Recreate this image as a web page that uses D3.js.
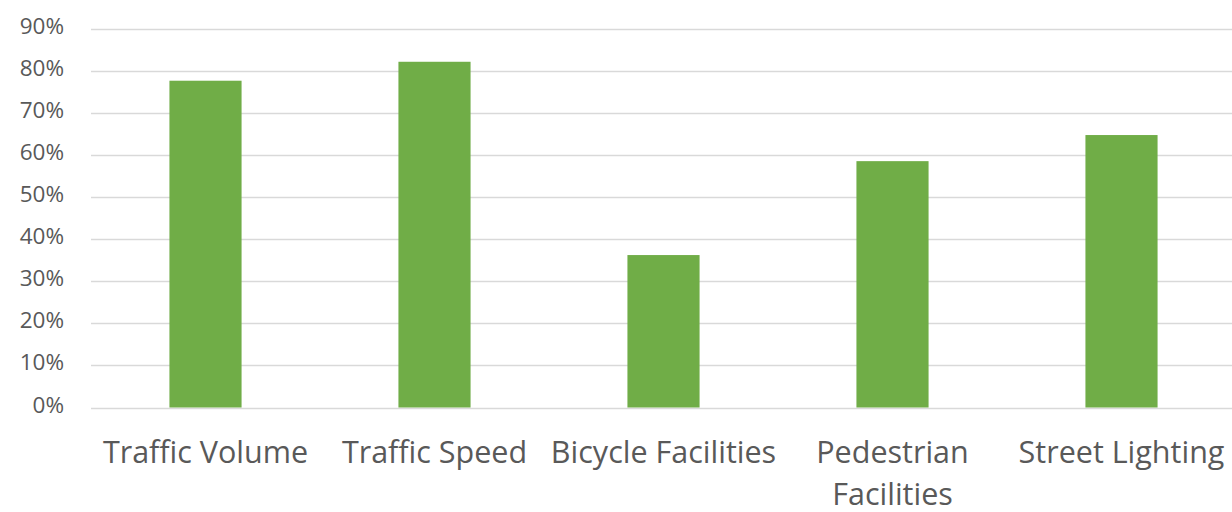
<!DOCTYPE html>
<html><head><meta charset="utf-8">
<script src="https://cdn.jsdelivr.net/npm/d3@7"></script>
<style>body{margin:0;background:#fff;}svg{display:block;}</style>
</head><body>
<svg id="chart" width="1232" height="512"></svg>
<script>
const categories = ["Traffic Volume", "Traffic Speed", "Bicycle Facilities", "Pedestrian Facilities", "Street Lighting"];
const values = [0.776, 0.821, 0.362, 0.585, 0.647];
const tickValues = [0, 0.1, 0.2, 0.3, 0.4, 0.5, 0.6, 0.7, 0.8, 0.9];

(function() {
const svg = d3.select("#chart");
const mLeft = 91, mRight = 1236, mTop = 28.5, mBottom = 407.5;
const x = d3.scaleBand().domain(categories).range([mLeft, mRight]).padding(0);
const y = d3.scaleLinear().domain([0, 0.9]).range([mBottom, mTop]);
const font = "'Open Sans', sans-serif";

svg.append("g").selectAll("line").data(tickValues).join("line")
  .attr("x1", mLeft).attr("x2", 1232)
  .attr("y1", d => Math.round(y(d)) + 0.5).attr("y2", d => Math.round(y(d)) + 0.5)
  .attr("stroke", "#d9d9d9").attr("stroke-width", 1.5);

const yAxis = d3.axisLeft(y).tickValues(tickValues).tickFormat(d3.format(".0%")).tickSize(0).tickPadding(0);
const ya = svg.append("g").attr("transform", "translate(64,0)").call(yAxis);
ya.select(".domain").remove();
ya.selectAll("text").attr("font-family", font).attr("font-size", 22.5).attr("fill", "#595959").attr("dy", "0.2em");

const bw = x.bandwidth() * 0.315;
svg.append("g").selectAll("rect").data(values).join("rect")
  .attr("x", (d, i) => x(categories[i]) + x.bandwidth() / 2 - bw / 2)
  .attr("width", bw)
  .attr("y", d => y(d))
  .attr("height", d => y(0) - y(d))
  .attr("fill", "#70ad47");

const xAxis = d3.axisBottom(x).tickSize(0).tickPadding(0);
const xa = svg.append("g").attr("transform", `translate(0,${mBottom})`).call(xAxis);
xa.select(".domain").remove();
xa.selectAll("text").remove();
const wrap = {"Pedestrian Facilities": ["Pedestrian", "Facilities"]};
xa.selectAll(".tick").each(function(d) {
  const lines = wrap[d] || [d];
  const t = d3.select(this).append("text")
    .attr("font-family", font).attr("font-size", 30.5).attr("fill", "#595959")
    .attr("text-anchor", "middle");
  lines.forEach((l, i) => t.append("tspan").attr("x", 0).attr("y", 55 + i * 42).text(l));
});
})();
</script>
</body></html>
